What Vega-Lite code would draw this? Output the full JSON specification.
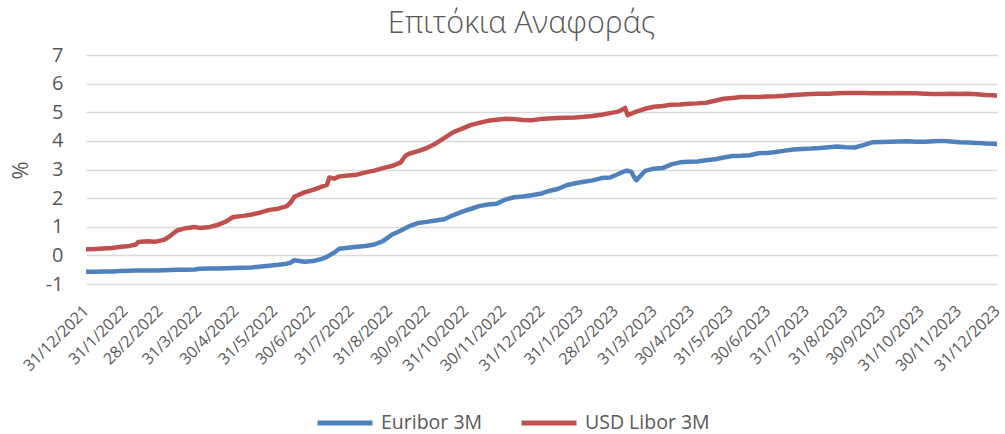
{
  "$schema": "https://vega.github.io/schema/vega-lite/v6.json",
  "width": 911,
  "height": 229,
  "autosize": {"type": "none"},
  "padding": {"left": 86, "top": 55, "right": 8, "bottom": 150},
  "background": "white",
  "config": {"view": {"stroke": null}, "font": "Open Sans"},
  "title": {"text": "Επιτόκια Αναφοράς", "font": "Open Sans", "fontSize": 30.5, "fontWeight": 300, "color": "#595959", "anchor": "middle", "frame": "group", "baseline": "alphabetic", "offset": 22, "dx": -20, "dy": 40},
  "data": {"values": [
    {"date": "2021-12-31", "Euribor 3M": -0.57, "USD Libor 3M": 0.21},
    {"date": "2022-01-07", "Euribor 3M": -0.57, "USD Libor 3M": 0.22},
    {"date": "2022-01-14", "Euribor 3M": -0.56, "USD Libor 3M": 0.24},
    {"date": "2022-01-21", "Euribor 3M": -0.56, "USD Libor 3M": 0.26},
    {"date": "2022-01-28", "Euribor 3M": -0.55, "USD Libor 3M": 0.30},
    {"date": "2022-02-04", "Euribor 3M": -0.54, "USD Libor 3M": 0.33},
    {"date": "2022-02-09", "Euribor 3M": -0.53, "USD Libor 3M": 0.38},
    {"date": "2022-02-11", "Euribor 3M": -0.53, "USD Libor 3M": 0.47},
    {"date": "2022-02-18", "Euribor 3M": -0.53, "USD Libor 3M": 0.49},
    {"date": "2022-02-25", "Euribor 3M": -0.53, "USD Libor 3M": 0.48},
    {"date": "2022-03-04", "Euribor 3M": -0.52, "USD Libor 3M": 0.55},
    {"date": "2022-03-09", "Euribor 3M": -0.51, "USD Libor 3M": 0.70},
    {"date": "2022-03-14", "Euribor 3M": -0.50, "USD Libor 3M": 0.87},
    {"date": "2022-03-21", "Euribor 3M": -0.50, "USD Libor 3M": 0.95},
    {"date": "2022-03-28", "Euribor 3M": -0.49, "USD Libor 3M": 0.99},
    {"date": "2022-04-01", "Euribor 3M": -0.47, "USD Libor 3M": 0.96},
    {"date": "2022-04-08", "Euribor 3M": -0.46, "USD Libor 3M": 0.98},
    {"date": "2022-04-15", "Euribor 3M": -0.46, "USD Libor 3M": 1.06},
    {"date": "2022-04-22", "Euribor 3M": -0.45, "USD Libor 3M": 1.18},
    {"date": "2022-04-28", "Euribor 3M": -0.44, "USD Libor 3M": 1.34},
    {"date": "2022-05-06", "Euribor 3M": -0.43, "USD Libor 3M": 1.38},
    {"date": "2022-05-13", "Euribor 3M": -0.42, "USD Libor 3M": 1.43},
    {"date": "2022-05-20", "Euribor 3M": -0.39, "USD Libor 3M": 1.50},
    {"date": "2022-05-27", "Euribor 3M": -0.36, "USD Libor 3M": 1.59},
    {"date": "2022-06-03", "Euribor 3M": -0.33, "USD Libor 3M": 1.63},
    {"date": "2022-06-10", "Euribor 3M": -0.29, "USD Libor 3M": 1.72},
    {"date": "2022-06-13", "Euribor 3M": -0.25, "USD Libor 3M": 1.85},
    {"date": "2022-06-16", "Euribor 3M": -0.17, "USD Libor 3M": 2.05},
    {"date": "2022-06-24", "Euribor 3M": -0.22, "USD Libor 3M": 2.20},
    {"date": "2022-07-01", "Euribor 3M": -0.20, "USD Libor 3M": 2.29},
    {"date": "2022-07-08", "Euribor 3M": -0.12, "USD Libor 3M": 2.40},
    {"date": "2022-07-12", "Euribor 3M": -0.05, "USD Libor 3M": 2.46},
    {"date": "2022-07-14", "Euribor 3M": 0.00, "USD Libor 3M": 2.72},
    {"date": "2022-07-18", "Euribor 3M": 0.10, "USD Libor 3M": 2.68},
    {"date": "2022-07-22", "Euribor 3M": 0.23, "USD Libor 3M": 2.76},
    {"date": "2022-07-29", "Euribor 3M": 0.27, "USD Libor 3M": 2.79},
    {"date": "2022-08-05", "Euribor 3M": 0.30, "USD Libor 3M": 2.82},
    {"date": "2022-08-12", "Euribor 3M": 0.33, "USD Libor 3M": 2.90},
    {"date": "2022-08-19", "Euribor 3M": 0.38, "USD Libor 3M": 2.96},
    {"date": "2022-08-26", "Euribor 3M": 0.50, "USD Libor 3M": 3.05},
    {"date": "2022-09-02", "Euribor 3M": 0.72, "USD Libor 3M": 3.12},
    {"date": "2022-09-09", "Euribor 3M": 0.86, "USD Libor 3M": 3.24},
    {"date": "2022-09-13", "Euribor 3M": 0.95, "USD Libor 3M": 3.48},
    {"date": "2022-09-16", "Euribor 3M": 1.02, "USD Libor 3M": 3.55},
    {"date": "2022-09-23", "Euribor 3M": 1.13, "USD Libor 3M": 3.64},
    {"date": "2022-09-30", "Euribor 3M": 1.17, "USD Libor 3M": 3.75},
    {"date": "2022-10-07", "Euribor 3M": 1.22, "USD Libor 3M": 3.90},
    {"date": "2022-10-14", "Euribor 3M": 1.26, "USD Libor 3M": 4.10},
    {"date": "2022-10-21", "Euribor 3M": 1.40, "USD Libor 3M": 4.30},
    {"date": "2022-10-28", "Euribor 3M": 1.52, "USD Libor 3M": 4.42},
    {"date": "2022-11-04", "Euribor 3M": 1.62, "USD Libor 3M": 4.55},
    {"date": "2022-11-11", "Euribor 3M": 1.72, "USD Libor 3M": 4.63},
    {"date": "2022-11-18", "Euribor 3M": 1.78, "USD Libor 3M": 4.70},
    {"date": "2022-11-25", "Euribor 3M": 1.80, "USD Libor 3M": 4.74},
    {"date": "2022-12-02", "Euribor 3M": 1.95, "USD Libor 3M": 4.77},
    {"date": "2022-12-09", "Euribor 3M": 2.03, "USD Libor 3M": 4.76},
    {"date": "2022-12-16", "Euribor 3M": 2.06, "USD Libor 3M": 4.73},
    {"date": "2022-12-23", "Euribor 3M": 2.10, "USD Libor 3M": 4.72},
    {"date": "2022-12-30", "Euribor 3M": 2.15, "USD Libor 3M": 4.76},
    {"date": "2023-01-06", "Euribor 3M": 2.25, "USD Libor 3M": 4.78},
    {"date": "2023-01-13", "Euribor 3M": 2.32, "USD Libor 3M": 4.80},
    {"date": "2023-01-20", "Euribor 3M": 2.45, "USD Libor 3M": 4.81},
    {"date": "2023-01-27", "Euribor 3M": 2.52, "USD Libor 3M": 4.82},
    {"date": "2023-02-03", "Euribor 3M": 2.57, "USD Libor 3M": 4.84},
    {"date": "2023-02-10", "Euribor 3M": 2.62, "USD Libor 3M": 4.87},
    {"date": "2023-02-17", "Euribor 3M": 2.70, "USD Libor 3M": 4.91},
    {"date": "2023-02-24", "Euribor 3M": 2.72, "USD Libor 3M": 4.97},
    {"date": "2023-03-03", "Euribor 3M": 2.85, "USD Libor 3M": 5.03},
    {"date": "2023-03-08", "Euribor 3M": 2.95, "USD Libor 3M": 5.15},
    {"date": "2023-03-10", "Euribor 3M": 2.96, "USD Libor 3M": 4.90},
    {"date": "2023-03-13", "Euribor 3M": 2.92, "USD Libor 3M": 4.95},
    {"date": "2023-03-15", "Euribor 3M": 2.75, "USD Libor 3M": 4.99},
    {"date": "2023-03-17", "Euribor 3M": 2.63, "USD Libor 3M": 5.02},
    {"date": "2023-03-24", "Euribor 3M": 2.95, "USD Libor 3M": 5.12},
    {"date": "2023-03-31", "Euribor 3M": 3.03, "USD Libor 3M": 5.19},
    {"date": "2023-04-07", "Euribor 3M": 3.05, "USD Libor 3M": 5.22},
    {"date": "2023-04-14", "Euribor 3M": 3.18, "USD Libor 3M": 5.26},
    {"date": "2023-04-21", "Euribor 3M": 3.25, "USD Libor 3M": 5.27},
    {"date": "2023-04-28", "Euribor 3M": 3.27, "USD Libor 3M": 5.30},
    {"date": "2023-05-05", "Euribor 3M": 3.28, "USD Libor 3M": 5.31},
    {"date": "2023-05-12", "Euribor 3M": 3.32, "USD Libor 3M": 5.33},
    {"date": "2023-05-19", "Euribor 3M": 3.36, "USD Libor 3M": 5.40},
    {"date": "2023-05-26", "Euribor 3M": 3.42, "USD Libor 3M": 5.47},
    {"date": "2023-06-02", "Euribor 3M": 3.47, "USD Libor 3M": 5.50},
    {"date": "2023-06-09", "Euribor 3M": 3.48, "USD Libor 3M": 5.53},
    {"date": "2023-06-16", "Euribor 3M": 3.50, "USD Libor 3M": 5.53},
    {"date": "2023-06-23", "Euribor 3M": 3.57, "USD Libor 3M": 5.53},
    {"date": "2023-06-30", "Euribor 3M": 3.58, "USD Libor 3M": 5.55},
    {"date": "2023-07-07", "Euribor 3M": 3.61, "USD Libor 3M": 5.56},
    {"date": "2023-07-14", "Euribor 3M": 3.66, "USD Libor 3M": 5.58},
    {"date": "2023-07-21", "Euribor 3M": 3.70, "USD Libor 3M": 5.60},
    {"date": "2023-07-28", "Euribor 3M": 3.72, "USD Libor 3M": 5.62},
    {"date": "2023-08-04", "Euribor 3M": 3.73, "USD Libor 3M": 5.64},
    {"date": "2023-08-11", "Euribor 3M": 3.75, "USD Libor 3M": 5.65},
    {"date": "2023-08-18", "Euribor 3M": 3.78, "USD Libor 3M": 5.65},
    {"date": "2023-08-25", "Euribor 3M": 3.80, "USD Libor 3M": 5.66},
    {"date": "2023-09-01", "Euribor 3M": 3.78, "USD Libor 3M": 5.67},
    {"date": "2023-09-08", "Euribor 3M": 3.77, "USD Libor 3M": 5.67},
    {"date": "2023-09-15", "Euribor 3M": 3.85, "USD Libor 3M": 5.67},
    {"date": "2023-09-22", "Euribor 3M": 3.95, "USD Libor 3M": 5.66},
    {"date": "2023-09-29", "Euribor 3M": 3.96, "USD Libor 3M": 5.66},
    {"date": "2023-10-06", "Euribor 3M": 3.97, "USD Libor 3M": 5.66},
    {"date": "2023-10-13", "Euribor 3M": 3.98, "USD Libor 3M": 5.67},
    {"date": "2023-10-20", "Euribor 3M": 3.99, "USD Libor 3M": 5.66},
    {"date": "2023-10-27", "Euribor 3M": 3.97, "USD Libor 3M": 5.66},
    {"date": "2023-11-03", "Euribor 3M": 3.97, "USD Libor 3M": 5.65},
    {"date": "2023-11-10", "Euribor 3M": 3.99, "USD Libor 3M": 5.64},
    {"date": "2023-11-17", "Euribor 3M": 4.00, "USD Libor 3M": 5.64},
    {"date": "2023-11-24", "Euribor 3M": 3.98, "USD Libor 3M": 5.65},
    {"date": "2023-12-01", "Euribor 3M": 3.95, "USD Libor 3M": 5.64},
    {"date": "2023-12-08", "Euribor 3M": 3.94, "USD Libor 3M": 5.65},
    {"date": "2023-12-15", "Euribor 3M": 3.93, "USD Libor 3M": 5.63},
    {"date": "2023-12-22", "Euribor 3M": 3.91, "USD Libor 3M": 5.60},
    {"date": "2023-12-29", "Euribor 3M": 3.90, "USD Libor 3M": 5.59},
    {"date": "2023-12-31", "Euribor 3M": 3.88, "USD Libor 3M": 5.58}
  ]},
  "transform": [{"fold": ["Euribor 3M", "USD Libor 3M"], "as": ["series", "value"]}],
  "mark": {"type": "line", "strokeWidth": 4.5, "strokeCap": "round", "strokeJoin": "round", "clip": true},
  "encoding": {
    "x": {
      "field": "date", "type": "temporal",
      "scale": {"type": "utc", "domain": [{"year": 2021, "month": 12, "date": 31, "utc": true}, {"year": 2023, "month": 12, "date": 31, "utc": true}]},
      "axis": {
        "title": null, "grid": false, "domain": false, "ticks": false,
        "values": [
          {"year": 2021, "month": 12, "date": 31, "utc": true},
          {"year": 2022, "month": 1, "date": 31, "utc": true},
          {"year": 2022, "month": 2, "date": 28, "utc": true},
          {"year": 2022, "month": 3, "date": 31, "utc": true},
          {"year": 2022, "month": 4, "date": 30, "utc": true},
          {"year": 2022, "month": 5, "date": 31, "utc": true},
          {"year": 2022, "month": 6, "date": 30, "utc": true},
          {"year": 2022, "month": 7, "date": 31, "utc": true},
          {"year": 2022, "month": 8, "date": 31, "utc": true},
          {"year": 2022, "month": 9, "date": 30, "utc": true},
          {"year": 2022, "month": 10, "date": 31, "utc": true},
          {"year": 2022, "month": 11, "date": 30, "utc": true},
          {"year": 2022, "month": 12, "date": 31, "utc": true},
          {"year": 2023, "month": 1, "date": 31, "utc": true},
          {"year": 2023, "month": 2, "date": 28, "utc": true},
          {"year": 2023, "month": 3, "date": 31, "utc": true},
          {"year": 2023, "month": 4, "date": 30, "utc": true},
          {"year": 2023, "month": 5, "date": 31, "utc": true},
          {"year": 2023, "month": 6, "date": 30, "utc": true},
          {"year": 2023, "month": 7, "date": 31, "utc": true},
          {"year": 2023, "month": 8, "date": 31, "utc": true},
          {"year": 2023, "month": 9, "date": 30, "utc": true},
          {"year": 2023, "month": 10, "date": 31, "utc": true},
          {"year": 2023, "month": 11, "date": 30, "utc": true},
          {"year": 2023, "month": 12, "date": 31, "utc": true}
        ],
        "labelExpr": "utcFormat(datum.value, '%-d/%-m/%Y')",
        "labelAngle": -45, "labelAlign": "right", "labelBaseline": "middle",
        "labelFontSize": 16, "labelColor": "#595959", "labelFont": "Open Sans",
        "labelPadding": 24, "labelOverlap": false, "labelBound": false, "labelFlush": false
      }
    },
    "y": {
      "field": "value", "type": "quantitative",
      "scale": {"domain": [-1, 7], "nice": false, "zero": false},
      "axis": {
        "values": [-1, 0, 1, 2, 3, 4, 5, 6, 7],
        "labelExpr": "replace(datum.label, '−', '-')",
        "grid": true, "gridColor": "#D9D9D9", "gridWidth": 1.3,
        "domain": false, "ticks": false,
        "labelFontSize": 20, "labelColor": "#595959", "labelFont": "Open Sans", "labelPadding": 23,
        "title": "%", "titleFontSize": 22, "titleFontWeight": "normal", "titleColor": "#595959", "titleFont": "Open Sans",
        "titleAngle": -90, "titleX": -66, "titleY": 115, "titleAlign": "center", "titleBaseline": "middle"
      }
    },
    "color": {
      "field": "series", "type": "nominal",
      "scale": {"domain": ["Euribor 3M", "USD Libor 3M"], "range": ["#4F81BD", "#C0504D"]},
      "legend": {
        "title": null, "orient": "none", "direction": "horizontal", "legendX": 229, "legendY": 338,
        "symbolType": "stroke", "symbolStrokeWidth": 5, "symbolSize": 3025,
        "labelFontSize": 19.5, "labelColor": "#595959", "labelFont": "Open Sans", "labelOffset": 6,
        "columnPadding": 28
      }
    }
  }
}
